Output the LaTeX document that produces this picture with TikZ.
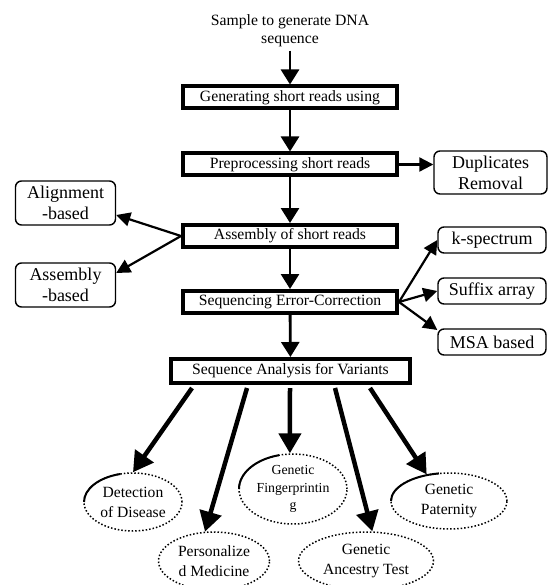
\documentclass[tikz,border=0pt]{standalone}
\usepackage{fontspec}
\setmainfont{Liberation Serif}
\usetikzlibrary{arrows.meta,shapes.geometric}

\begin{document}
\begin{tikzpicture}[x=1pt,y=-1pt,
    mainbox/.style={draw,line width=4pt,minimum width=214pt,minimum height=22pt,inner sep=0pt,font=\fontsize{15.7}{18}\selectfont},
    sidebox/.style={draw,line width=1.4pt,rounded corners=6pt,minimum width=100pt,inner sep=0pt,align=center,font=\fontsize{18}{21}\selectfont},
    leaf/.style={ellipse,draw,dotted,line width=1.5pt,inner sep=0pt,align=center,font=\fontsize{15.6}{20}\selectfont},
    downarrow/.style={-{Triangle[length=15pt,width=18pt]},line width=2.8pt},
    sidearrow/.style={-{Triangle[length=14pt,width=14pt]},line width=2.2pt},
    bigarrow/.style={-{Triangle[length=20pt,width=22pt]},line width=4.5pt}]
    \useasboundingbox (0,0) rectangle (549,585);
    % main chain
    \node[align=center,font=\fontsize{15.7}{18}\selectfont] (sample) at (290,31) {Sample to generate DNA\\sequence};
    \node[mainbox] (gen) at (290,97.5) {Generating short reads using};
    \node[mainbox] (pre) at (290,164.5) {Preprocessing short reads};
    \node[mainbox] (asm) at (290,236) {Assembly of short reads};
    \node[mainbox] (corr) at (290,302) {Sequencing Error-Correction};
    \node[mainbox,minimum width=239pt,minimum height=24pt] (var) at (290.5,371) {Sequence Analysis for Variants};
    \draw[downarrow] (sample) -- (gen);
    \draw[downarrow] (gen) -- (pre);
    \draw[downarrow] (pre) -- (asm);
    \draw[downarrow] (asm) -- (corr);
    \draw[downarrow] (corr) -- (var);
    % side boxes
    \node[sidebox,minimum width=113pt,minimum height=43pt] (dup) at (490.5,172.5) {Duplicates\\Removal};
    \node[sidebox,minimum height=44pt] (align) at (65.5,203) {Alignment\\-based};
    \node[sidebox,minimum height=44pt] (asmb) at (65.5,285) {Assembly\\-based};
    \node[sidebox,minimum width=108pt,minimum height=26pt] (kspec) at (492,240) {k-spectrum};
    \node[sidebox,minimum width=108pt,minimum height=26pt] (suffix) at (492,291) {Suffix array};
    \node[sidebox,minimum width=108pt,minimum height=26pt] (msa) at (492,342) {MSA based};
    \draw[sidearrow] (pre.east) -- (pre.east -| dup.west);
    \draw[sidearrow] (asm.west) -- ([yshift=-12pt]align.east);
    \draw[sidearrow] (asm.west) -- ([yshift=12pt]asmb.east);
    \draw[sidearrow] (corr.east) -- (kspec.west);
    \draw[sidearrow] (corr.east) -- (suffix.west);
    \draw[sidearrow] (corr.east) -- ([yshift=12pt]msa.west);
    % applications
    \node[leaf,minimum width=98pt,minimum height=58pt] (disease) at (133,502) {Detection\\of Disease};
    \node[leaf,minimum width=111pt,minimum height=58pt] (medicine) at (214,561) {Personalize\\d Medicine};
    \node[leaf,minimum width=108pt,minimum height=70pt,font=\fontsize{13.8}{17.5}\selectfont] (finger) at (293,489) {Genetic\\Fingerprintin\\g};
    \node[leaf,minimum width=135pt,minimum height=58pt] (ancestry) at (366,561) {Genetic\\Ancestry Test};
    \node[leaf,minimum width=116pt,minimum height=56pt] (paternity) at (449,501) {Genetic\\Paternity};
    \draw[line width=2pt] ([shift={(-49pt,0pt)}]disease.center) arc[start angle=180,end angle=255,x radius=49,y radius=29];
    \draw[line width=2pt] ([shift={(-54pt,0pt)}]finger.center) arc[start angle=180,end angle=255,x radius=54,y radius=35];
    \draw[line width=2pt] ([shift={(-58pt,0pt)}]paternity.center) arc[start angle=180,end angle=260,x radius=58,y radius=28];
    \draw[bigarrow] ([xshift=23pt,yshift=-3pt]var.south west) -- (disease.north);
    \draw[bigarrow] ([xshift=78pt,yshift=-3pt]var.south west) -- (medicine.107);
    \draw[bigarrow] ([xshift=121pt,yshift=-3pt]var.south west) -- (finger.95);
    \draw[bigarrow] ([xshift=166pt,yshift=-3pt]var.south west) -- (ancestry.78);
    \draw[bigarrow] ([xshift=201pt,yshift=-3pt]var.south west) -- (paternity.130);
\end{tikzpicture}
\end{document}
